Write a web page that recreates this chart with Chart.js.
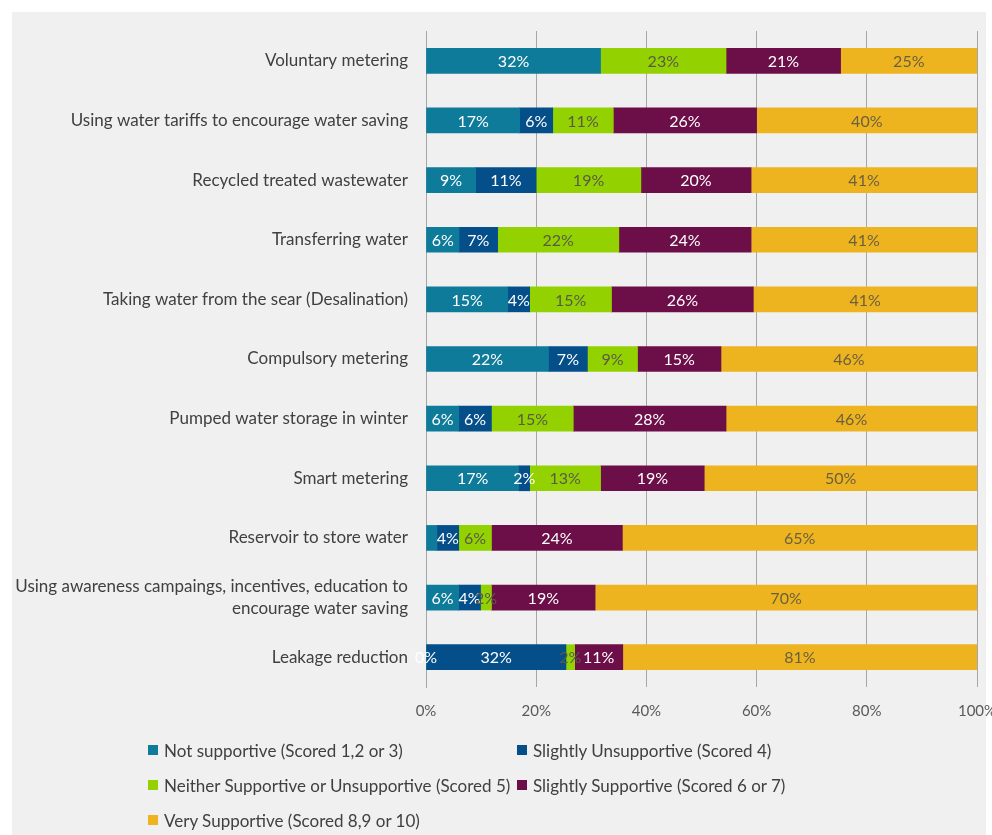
<!DOCTYPE html>
<html>
<head>
<meta charset="utf-8">
<script src="https://cdn.jsdelivr.net/npm/chart.js@4"></script>
<style>
  body { margin: 0; background: #fff; font-family: Lato, sans-serif; }
  #panel { position: absolute; left: 12px; top: 12px; width: 974px; height: 823px; background: #f0f0f0; }
  #chart { position: absolute; left: 0; top: 0; }
  #legend { position: absolute; left: 148px; top: 740px; display: grid; grid-template-columns: 369px auto; grid-auto-rows: 35px; font-size: 17px; color: #404040; }
  #legend div { display: flex; align-items: center; height: 20px; white-space: nowrap; }
  #legend span { display: inline-block; width: 10px; height: 10px; margin-right: 6px; }
</style>
</head>
<body>
<div id="panel"></div>
<canvas id="chart" width="992" height="835"></canvas>
<div id="legend"></div>
<script>
const categories = [
    "Voluntary metering",
    "Using water tariffs to encourage water saving",
    "Recycled treated wastewater",
    "Transferring water",
    "Taking water from the sear (Desalination)",
    "Compulsory metering",
    "Pumped water storage in winter",
    "Smart metering",
    "Reservoir to store water",
    ["Using awareness campaings, incentives, education to", "encourage water saving"],
    "Leakage reduction"
];

// raw scores (%) as labelled; bars are drawn as a share of each row's total
const notSupportive = [32, 17, 9, 6, 15, 22, 6, 17, 2, 6, 0];
const slightlyUnsupportive = [null, 6, 11, 7, 4, 7, 6, 2, 4, 4, 32];
const neither = [23, 11, 19, 22, 15, 9, 15, 13, 6, 2, 2];
const slightlySupportive = [21, 26, 20, 24, 26, 15, 28, 19, 24, 19, 11];
const verySupportive = [25, 40, 41, 41, 41, 46, 46, 50, 65, 70, 81];

const seriesNames = [
    "Not supportive (Scored 1,2 or 3)",
    "Slightly Unsupportive (Scored 4)",
    "Neither Supportive or Unsupportive (Scored 5)",
    "Slightly Supportive (Scored 6 or 7)",
    "Very Supportive (Scored 8,9 or 10)"
];
const xTicks = [0, 20, 40, 60, 80, 100];

// labels missing in the original (series index, row index)
const noLabel = [[0, 8]];

document.addEventListener("DOMContentLoaded", () => {
    const series = [notSupportive, slightlyUnsupportive, neither, slightlySupportive, verySupportive];
    const colors = ["#0f7b9a", "#044e8a", "#93d200", "#6c0f49", "#eeb41f"];
    const labelColors = ["#ffffff", "#ffffff", "#5a5a4a", "#ffffff", "#6a6040"];

    const totals = categories.map((c, i) => series.reduce((s, arr) => s + (arr[i] || 0), 0));

    const datasets = series.map((arr, k) => ({
        label: seriesNames[k],
        raw: arr,
        data: arr.map((v, i) => v === null ? null : v / totals[i] * 100),
        backgroundColor: colors[k],
        barThickness: 25
    }));

    const barLabels = {
        id: "barLabels",
        afterDatasetsDraw(chart) {
            const ctx = chart.ctx;
            ctx.save();
            ctx.font = "16px Lato";
            ctx.textAlign = "center";
            ctx.textBaseline = "middle";
            chart.data.datasets.forEach((ds, k) => {
                chart.getDatasetMeta(k).data.forEach((bar, i) => {
                    const v = ds.raw[i];
                    if (v === null) return;
                    if (noLabel.some(p => p[0] === k && p[1] === i)) return;
                    ctx.fillStyle = labelColors[k];
                    ctx.fillText(v + "%", (bar.x + bar.base) / 2, bar.y + 1);
                });
            });
            ctx.restore();
        }
    };

    const chart = new Chart(document.getElementById("chart"), {
        type: "bar",
        data: { labels: categories, datasets: datasets },
        options: {
            indexAxis: "y",
            responsive: false,
            animation: false,
            layout: { padding: { left: 0, top: 31, right: 15, bottom: 108 } },
            plugins: { legend: { display: false }, tooltip: { enabled: false } },
            scales: {
                x: {
                    stacked: true,
                    min: 0,
                    max: 100,
                    afterBuildTicks: (scale) => { scale.ticks = xTicks.map(v => ({ value: v })); },
                    afterFit: (scale) => {
                        scale.height = 40;
                        scale.paddingLeft = 0;
                        scale.paddingRight = 0;
                    },
                    ticks: { padding: 15, color: "#595959", font: { family: "Lato", size: 15 }, callback: (v) => v + "%" },
                    grid: { color: "#a6a6a6", drawTicks: false },
                    border: { display: false }
                },
                y: {
                    stacked: true,
                    afterFit: (scale) => { scale.width = 426; },
                    ticks: { padding: 18, color: "#404040", font: { family: "Lato", size: 17, lineHeight: 1.25 } },
                    grid: { display: false, drawTicks: false },
                    border: { color: "#a6a6a6" }
                }
            }
        },
        plugins: [barLabels]
    });

    // legend in two columns like the original
    const legend = document.getElementById("legend");
    chart.data.datasets.forEach((ds) => {
        const item = document.createElement("div");
        const box = document.createElement("span");
        box.style.background = ds.backgroundColor;
        item.appendChild(box);
        item.appendChild(document.createTextNode(ds.label));
        legend.appendChild(item);
    });
});
</script>
</body>
</html>
